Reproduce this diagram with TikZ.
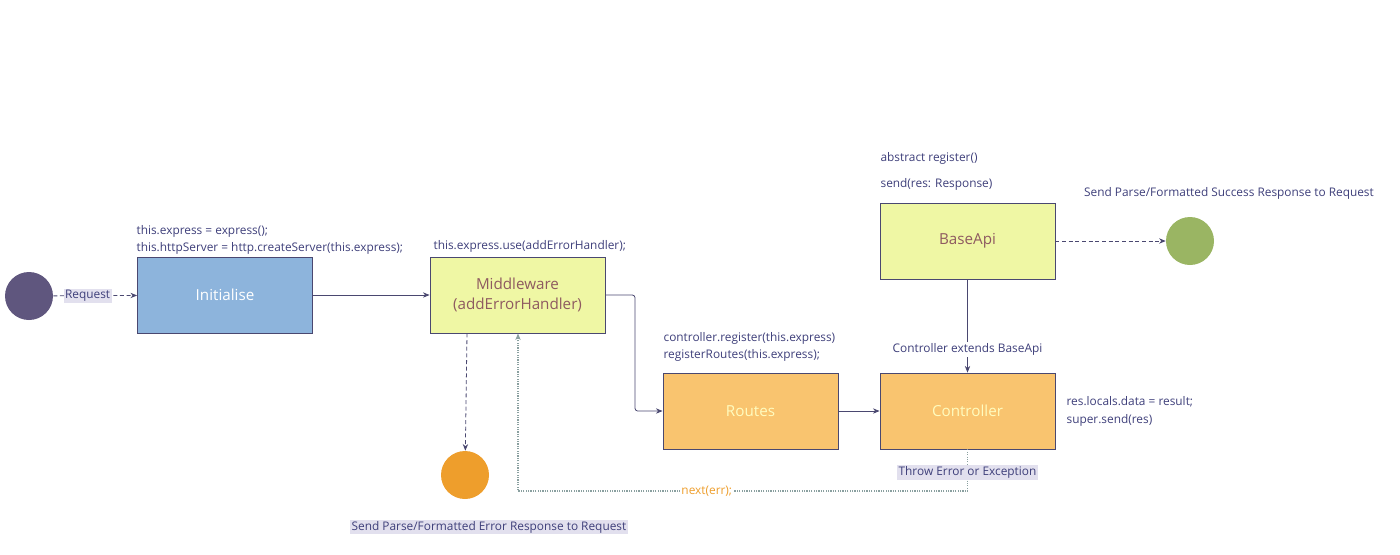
\documentclass[tikz,border=0pt]{standalone}
\usepackage{fontspec}
\setmainfont{Open Sans}
\usetikzlibrary{positioning,arrows.meta}
\definecolor{inkline}{HTML}{4A4870}
\definecolor{inktext}{HTML}{3E3F7A}
\definecolor{initblue}{HTML}{8DB4DC}
\definecolor{limefill}{HTML}{EFF7A4}
\definecolor{orangefill}{HTML}{F9C46F}
\definecolor{tagback}{HTML}{E2E0EE}
\definecolor{startdot}{HTML}{5F567E}
\definecolor{errdot}{HTML}{EE9E2C}
\definecolor{okdot}{HTML}{9AB563}
\definecolor{backline}{HTML}{8AA0A0}
\definecolor{mixtext}{HTML}{8E5A60}
\tikzset{
  stage/.style={draw=inkline, line width=0.6pt, minimum width=131.25pt, minimum height=57pt, align=center, font=\fontsize{11.4}{14.5}\selectfont},
  note/.style={text=inktext, font=\fontsize{8.9}{11}\selectfont, inner sep=1pt},
  tag/.style={note, fill=tagback},
  dot/.style={circle, minimum size=36pt, inner sep=0pt},
  flow/.style={draw=inkline, line width=0.6pt, -{Stealth[length=5pt,width=4pt]}},
  dflow/.style={flow, densely dashed},
  back/.style={draw=backline, line width=0.8pt, densely dotted, -{Stealth[length=5pt,width=4pt]}}
}

\begin{document}
\begin{tikzpicture}[x=0.75pt, y=-0.75pt]
  \useasboundingbox (0,0) rectangle (1400,554);

  \node[dot, fill=startdot] (start) at (29,296) {};
  \node[stage, fill=initblue, text=white] (init) at (225,295) {Initialise};
  \node[stage, fill=limefill, text=mixtext] (mid) at (517.5,295) {Middleware\\(addErrorHandler)};
  \node[stage, fill=orangefill, text=yellow!25] (routes) at (750.5,411) {Routes};
  \node[stage, fill=orangefill, text=yellow!25] (ctrl) at (967.5,411) {Controller};
  \node[stage, fill=limefill, text=mixtext] (base) at (967.5,241) {BaseApi};
  \node[dot, fill=okdot] (ok) at (1190,241) {};
  \node[dot, fill=errdot, minimum width=34.5pt, minimum height=36pt] (err) at (465,475) {};

  % code notes
  \node[note, anchor=west] (initA) at (135,231) {this.express = express();};
  \node[note, anchor=west] (initB) at (135,248) {this.httpServer = http.createServer(this.express);};
  \node[note, anchor=west] (midA) at (432,246) {this.express.use(addErrorHandler);};
  \node[note, anchor=west] (routesA) at (662,338) {controller.register(this.express)};
  \node[note, anchor=west] (routesB) at (662,355) {registerRoutes(this.express);};
  \node[note, anchor=west] (baseA) at (879,158) {abstract register()};
  \node[note, anchor=west] (baseB) at (879,184) {send(res: Response)};
  \node[note, anchor=west] (ctrlA) at (1065,402) {res.locals.data = result;};
  \node[note, anchor=west] (ctrlB) at (1065,420) {super.send(res)};
  \node[note] (okA) at (1229,193) {Send Parse/Formatted Success Response to Request};
  \node[tag] (errA) at (489,527) {Send Parse/Formatted Error Response to Request};

  \coordinate (turn) at (635,295);
  \coordinate (low) at (967.5,491);
  \coordinate (up) at (518,491);

  \draw[dflow] (start) -- node[tag, pos=0.41] (req) {Request} (init);
  \draw[flow] (init) -- (mid);
  \draw[flow, rounded corners=2pt] (mid.east) -- (turn) |- (routes.west);
  \draw[flow] (routes) -- (ctrl);
  \draw[flow] (base) -- node[note, fill=white, pos=0.75] (ext) {Controller extends BaseApi} (ctrl);
  \draw[dflow] (base) -- (ok);
  \draw[dflow] (mid.south -| 467,0) -- (err);
  \draw[back] (ctrl.south) -- node[tag, pos=0.55] (thr) {Throw Error or Exception} (low) -- node[note, fill=white, text=errdot, pos=0.58] (nxt) {next(err);} (up) -- (mid.south -| up);
\end{tikzpicture}
\end{document}
